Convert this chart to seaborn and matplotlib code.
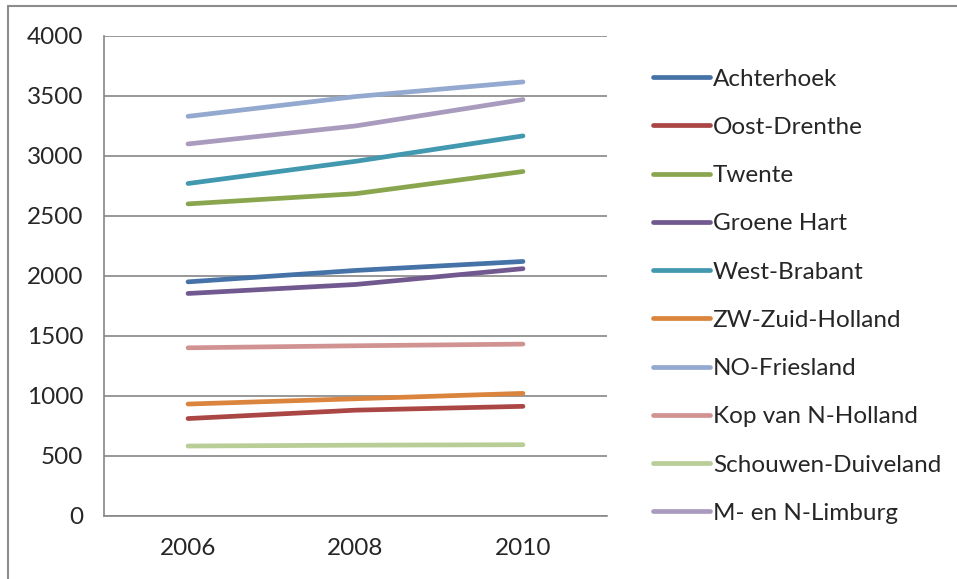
import pandas as pd
import numpy as np
import matplotlib
matplotlib.use("Agg")
import matplotlib.pyplot as plt
from matplotlib.lines import Line2D
import seaborn as sns

# data
jaren = ["2006", "2008", "2010"]
regios = ["Achterhoek", "Oost-Drenthe", "Twente", "Groene Hart", "West-Brabant",
          "ZW-Zuid-Holland", "NO-Friesland", "Kop van N-Holland",
          "Schouwen-Duiveland", "M- en N-Limburg"]
achterhoek = [1950, 2045, 2120]
oost_drenthe = [810, 880, 912]
twente = [2600, 2685, 2870]
groene_hart = [1853, 1928, 2060]
west_brabant = [2770, 2955, 3167]
zw_zuid_holland = [931, 975, 1020]
no_friesland = [3330, 3495, 3617]
kop_van_nh = [1400, 1417, 1431]
schouwen = [581, 588, 592]
limburg = [3100, 3250, 3470]
kleuren = ["#4572A7", "#AA4643", "#89A54E", "#71588F", "#4198AF",
           "#DB843D", "#93A9CF", "#D19392", "#B9CD96", "#A99BBD"]

reeksen = [achterhoek, oost_drenthe, twente, groene_hart, west_brabant,
           zw_zuid_holland, no_friesland, kop_van_nh, schouwen, limburg]
rows = []
for naam, waarden in zip(regios, reeksen):
    for i, w in enumerate(waarden):
        rows.append({"regio": naam, "pos": i, "waarde": w})
df = pd.DataFrame(rows)

sns.set_style("white")
plt.rcParams["font.family"] = ["Lato", "DejaVu Sans"]
fs = 17.5

fig = plt.figure(figsize=(9.57, 5.79), dpi=100)
ax = fig.add_axes([104.3 / 957, 1 - 515.7 / 579, (606.7 - 104.3) / 957, (515.7 - 36) / 579])

sns.lineplot(data=df, x="pos", y="waarde", hue="regio", hue_order=regios,
             palette=kleuren, linewidth=3.4, ax=ax, legend=False,
             solid_capstyle="round")

grijs = "#868686"
ax.set_xlim(-0.5, 2.5)
ax.set_ylim(0, 4000)
ax.set_yticks(np.arange(0, 4001, 500))
ax.yaxis.grid(True, color=grijs, linewidth=1.2)
ax.set_axisbelow(True)
ax.set_xticks([0, 1, 2])
ax.set_xticklabels(jaren)
ax.set_xticks([-0.5, 0.5, 1.5, 2.5], minor=True)
ax.tick_params(axis="x", which="major", length=0, pad=16, labelsize=fs)
ax.tick_params(axis="x", which="minor", length=7, width=1.2, color=grijs, direction="out")
ax.tick_params(axis="y", length=7, width=1.2, color=grijs, direction="out", pad=8, labelsize=fs)
ax.set_xlabel("")
ax.set_ylabel("")
for s in ["top", "right"]:
    ax.spines[s].set_visible(False)
for s in ["left", "bottom"]:
    ax.spines[s].set_color(grijs)
    ax.spines[s].set_linewidth(1.2)

# legend
handles = [Line2D([0], [0], color=c, linewidth=3.4, solid_capstyle="round") for c in kleuren]
fig.legend(handles, regios, loc="upper left", bbox_to_anchor=(643 / 957, 1 - 59 / 579),
           frameon=False, fontsize=fs, handlelength=2.35, handletextpad=0.12,
           labelspacing=1.12, borderaxespad=0)

# outer chart border (top and left visible)
fig.add_artist(Line2D([8 / 957, 1], [1 - 6 / 579, 1 - 6 / 579], color="#8c8c8c", linewidth=1.5))
fig.add_artist(Line2D([8 / 957, 8 / 957], [0, 1 - 6 / 579], color="#8c8c8c", linewidth=1.5))

fig.savefig("out.png", dpi=100)
